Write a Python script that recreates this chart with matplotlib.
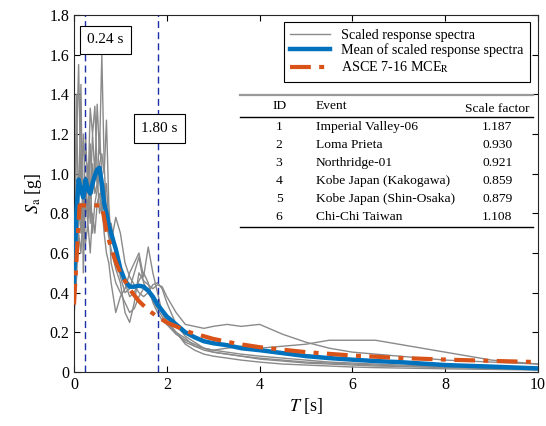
import matplotlib
matplotlib.use("Agg")
import matplotlib.pyplot as plt
from matplotlib.lines import Line2D

plt.rcParams['font.family'] = ['Liberation Serif', 'DejaVu Serif']
plt.rcParams['mathtext.fontset'] = 'stix'

# ---------------- data ----------------
periods = [0, 0.05, 0.1, 0.15, 0.2, 0.25, 0.3, 0.35, 0.4, 0.45, 0.5, 0.55, 0.6, 0.65, 0.7, 0.75,
           0.8, 0.9, 1.0, 1.1, 1.2, 1.3, 1.4, 1.5, 1.6, 1.7, 1.8, 1.9, 2.0, 2.2, 2.4, 2.6, 2.8,
           3.0, 3.3, 3.6, 4.0, 4.5, 5.0, 5.5, 6.0, 6.5, 7.0, 8.0, 9.0, 10.0]

sa_imperial = [0.30, 0.55, 0.85, 0.70, 0.95, 0.80, 1.05, 0.90, 1.20, 1.00, 1.35, 1.10, 1.60, 1.05, 0.80, 0.75,
               0.70, 0.62, 0.48, 0.40, 0.42, 0.50, 0.58, 0.45, 0.40, 0.38, 0.35, 0.30, 0.26, 0.20, 0.15, 0.13, 0.11,
               0.10, 0.09, 0.08, 0.07, 0.06, 0.05, 0.045, 0.04, 0.035, 0.03, 0.025, 0.02, 0.015]
sa_loma = [0.35, 1.10, 1.55, 0.90, 1.20, 0.85, 0.75, 0.95, 0.70, 0.85, 0.92, 1.00, 0.80, 0.85, 0.95, 0.75,
           0.55, 0.45, 0.40, 0.35, 0.30, 0.32, 0.38, 0.42, 0.40, 0.36, 0.32, 0.28, 0.24, 0.19, 0.16, 0.14, 0.12,
           0.11, 0.10, 0.09, 0.08, 0.07, 0.06, 0.05, 0.045, 0.04, 0.035, 0.03, 0.025, 0.02]
sa_northridge = [0.40, 1.40, 0.80, 1.45, 0.50, 0.90, 1.00, 0.75, 1.05, 0.90, 0.95, 1.05, 1.10, 1.00, 1.27, 0.85,
                 0.65, 0.78, 0.70, 0.55, 0.48, 0.44, 0.40, 0.38, 0.40, 0.44, 0.45, 0.42, 0.35, 0.24, 0.18, 0.15, 0.12,
                 0.10, 0.09, 0.08, 0.065, 0.055, 0.045, 0.04, 0.035, 0.03, 0.028, 0.022, 0.018, 0.014]
sa_kakogawa = [0.30, 0.75, 0.95, 1.10, 0.85, 1.20, 0.90, 1.33, 1.20, 1.34, 1.00, 0.80, 0.85, 0.70, 0.60, 0.55,
               0.45, 0.30, 0.38, 0.42, 0.50, 0.55, 0.60, 0.48, 0.63, 0.50, 0.40, 0.30, 0.25, 0.20, 0.14, 0.11, 0.09,
               0.08, 0.07, 0.06, 0.05, 0.04, 0.035, 0.03, 0.025, 0.022, 0.02, 0.016, 0.013, 0.01]
sa_shinosaka = [0.28, 0.45, 0.70, 0.60, 0.85, 0.65, 0.75, 0.60, 0.80, 0.70, 0.85, 0.90, 0.80, 0.95, 0.75, 0.68,
                0.62, 0.52, 0.45, 0.30, 0.25, 0.35, 0.50, 0.46, 0.44, 0.42, 0.44, 0.43, 0.38, 0.30, 0.24, 0.23, 0.22,
                0.23, 0.24, 0.23, 0.24, 0.19, 0.15, 0.12, 0.10, 0.09, 0.08, 0.06, 0.05, 0.04]
sa_chichi = [0.30, 0.60, 0.75, 0.85, 0.70, 0.95, 0.80, 1.15, 0.90, 1.05, 0.95, 1.20, 1.00, 0.90, 0.80, 0.70,
             0.75, 0.60, 0.50, 0.45, 0.38, 0.40, 0.46, 0.50, 0.45, 0.35, 0.30, 0.26, 0.24, 0.20, 0.17, 0.13, 0.12,
             0.11, 0.12, 0.13, 0.12, 0.13, 0.14, 0.16, 0.16, 0.16, 0.14, 0.10, 0.06, 0.04]

sa_mean = [0.45, 0.80, 0.97, 0.92, 0.88, 0.97, 0.92, 0.90, 0.95, 0.99, 1.02, 1.03, 0.95, 0.85, 0.80, 0.74,
           0.70, 0.62, 0.52, 0.46, 0.43, 0.43, 0.435, 0.43, 0.41, 0.38, 0.34, 0.31, 0.28, 0.24, 0.20, 0.175, 0.155,
           0.145, 0.135, 0.12, 0.11, 0.095, 0.08, 0.07, 0.062, 0.055, 0.05, 0.035, 0.027, 0.018]

asce_T = [0, 0.12, 0.6, 0.7, 0.8, 0.9, 1.0, 1.2, 1.4, 1.6, 1.8, 2.0, 2.5, 3.0, 3.5, 4.0, 5.0, 6.0, 7.0, 8.0, 9.0, 10.0]
asce_sa = [0.34, 0.84, 0.84, 0.71, 0.625, 0.555, 0.50, 0.417, 0.357, 0.3125, 0.278, 0.25, 0.20, 0.167, 0.143,
           0.125, 0.10, 0.083, 0.071, 0.0625, 0.056, 0.05]

records = [sa_imperial, sa_loma, sa_northridge, sa_kakogawa, sa_shinosaka, sa_chichi]

period_marks = [0.24, 1.80]
period_labels = ["0.24 s", "1.80 s"]

table_ids = ["1", "2", "3", "4", "5", "6"]
table_events = ["Imperial Valley-06", "Loma Prieta", "Northridge-01",
                "Kobe Japan (Kakogawa)", "Kobe Japan (Shin-Osaka)", "Chi-Chi Taiwan"]
table_factors = ["1.187", "0.930", "0.921", "0.859", "0.879", "1.108"]

x_ticks = [0, 2, 4, 6, 8, 10]
y_ticks = [0, 0.2, 0.4, 0.6, 0.8, 1.0, 1.2, 1.4, 1.6, 1.8]
y_ticklabels = ["0", "0.2", "0.4", "0.6", "0.8", "1.0", "1.2", "1.4", "1.6", "1.8"]

# ---------------- plot ----------------
fig = plt.figure(figsize=(5.46, 4.26), dpi=100)
ax = fig.add_axes([0.1355, 0.1268, 0.8498, 0.838])

gray = '#8a8a8a'
for i, rec in enumerate(records):
    ax.plot(periods, rec, color=gray, lw=1.0,
            label='Scaled response spectra' if i == 0 else None, zorder=2)
ax.plot(periods, sa_mean, color='#0072BD', lw=3.2, label='Mean of scaled response spectra', zorder=4)
ax.plot(asce_T, asce_sa, color='#D95319', lw=3.0, dashes=(5, 2, 1.2, 2),
        label=r'ASCE 7-16 MCE$_{\mathrm{R}}$', zorder=5)

for t in period_marks:
    ax.axvline(t, color='#1a2fa8', lw=1.0, ls=(0, (5, 3)), zorder=3)

ax.text(0.68, 1.675, period_labels[0], ha='center', va='center', fontsize=11,
        bbox=dict(boxstyle='square,pad=0.5', fc='white', ec='black', lw=0.8), zorder=6)
ax.text(1.84, 1.228, period_labels[1], ha='center', va='center', fontsize=11,
        bbox=dict(boxstyle='square,pad=0.5', fc='white', ec='black', lw=0.8), zorder=6)

ax.set_xlim(0, 10)
ax.set_ylim(0, 1.8)
ax.set_xticks(x_ticks)
ax.set_xticklabels([str(v) for v in x_ticks])
ax.set_yticks(y_ticks)
ax.set_yticklabels(y_ticklabels)
ax.tick_params(direction='in', top=True, right=True, labelsize=11.5, length=4, width=0.8)
for s in ax.spines.values():
    s.set_linewidth(0.8)
    s.set_color('#262626')

ax.set_xlabel(r'$T$ [s]', fontsize=13, labelpad=2)
ax.set_ylabel(r'$S_{\mathrm{a}}$ [g]', fontsize=13, labelpad=4)

leg = ax.legend(loc='upper right', bbox_to_anchor=(0.983, 0.980), borderaxespad=0, fontsize=10.2,
                frameon=True, fancybox=False, edgecolor='black', framealpha=1, handlelength=2.8,
                borderpad=0.45, labelspacing=0.15)
leg.get_frame().set_linewidth(0.8)

# table
tr = ax.transAxes
x0, x1 = 0.358, 0.989
ax.add_line(Line2D([x0, x1], [0.776, 0.776], transform=tr, color='#999999', lw=1.6, zorder=7))
ax.add_line(Line2D([x0, x1], [0.714, 0.714], transform=tr, color='black', lw=1.0, zorder=7))
ax.add_line(Line2D([x0, x1], [0.406, 0.406], transform=tr, color='black', lw=1.0, zorder=7))
fs = 9.7
id_x, ev_x, sf_x = 0.442, 0.5216, 0.912
ax.text(id_x, 0.744, "ID", transform=tr, ha='center', va='center', fontsize=fs)
ax.text(ev_x, 0.744, "Event", transform=tr, ha='left', va='center', fontsize=fs)
ax.text(sf_x, 0.737, "Scale factor", transform=tr, ha='center', va='center', fontsize=fs)
row_y = [0.686, 0.636, 0.585, 0.535, 0.485, 0.434]
for yy, i_, e_, f_ in zip(row_y, table_ids, table_events, table_factors):
    ax.text(id_x, yy, i_, transform=tr, ha='center', va='center', fontsize=fs)
    ax.text(ev_x, yy, e_, transform=tr, ha='left', va='center', fontsize=fs)
    ax.text(sf_x, yy, f_, transform=tr, ha='center', va='center', fontsize=fs)

fig.savefig('out.png', dpi=100)
